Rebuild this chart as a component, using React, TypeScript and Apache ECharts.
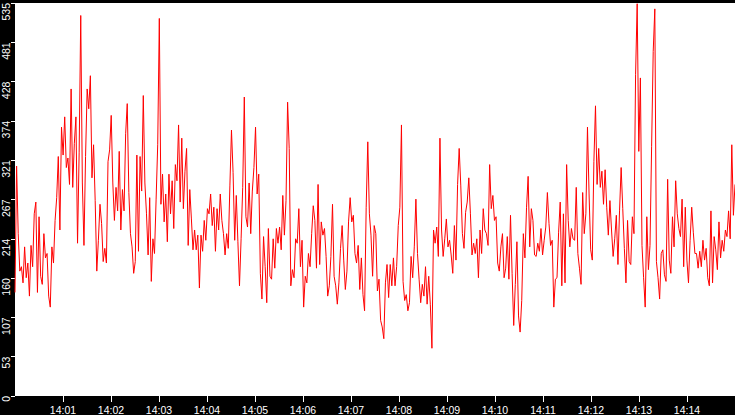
import React, { useEffect, useRef } from "react";
import * as echarts from "echarts";

// time window: 14:00:00 .. 14:15:00, seconds of day
const START_SEC = 14 * 3600;
const SPAN_SEC = 15 * 60;
const TICK_SEC = 60;

const Y_MAX = 535;
const Y_STEP = 53.5;

// samples, in six 2.5-minute blocks
const seg1 = [141, 313, 221, 170, 176, 154, 203, 161, 181, 136, 205, 176, 248, 264, 141, 244, 163, 152, 221, 188, 194, 136, 121, 203, 181, 239, 270, 326, 226, 366, 328, 380, 311, 324, 288, 418, 284, 344, 380, 208, 331, 518, 290, 205, 326, 418, 391, 436, 297, 342, 266, 170, 212, 261, 235, 183, 201, 181, 319, 335, 382, 290, 239, 284, 252, 333, 226, 281, 252, 357, 398, 277, 221, 203, 167];
const seg2 = [183, 328, 197, 326, 279, 409, 290, 248, 192, 270, 156, 214, 194, 268, 342, 514, 261, 302, 237, 275, 210, 302, 248, 293, 228, 315, 293, 369, 264, 351, 255, 306, 337, 205, 281, 241, 199, 226, 199, 219, 147, 219, 197, 239, 212, 255, 248, 275, 232, 257, 197, 255, 226, 275, 239, 221, 192, 221, 201, 286, 362, 304, 212, 273, 210, 150, 214, 284, 407, 244, 230, 290, 221, 279, 311];
const seg3 = [366, 275, 302, 167, 132, 217, 176, 127, 228, 163, 159, 214, 174, 228, 208, 230, 199, 273, 219, 266, 400, 337, 150, 172, 161, 214, 208, 255, 176, 212, 121, 163, 154, 194, 176, 221, 259, 239, 174, 288, 179, 237, 219, 228, 190, 136, 150, 190, 261, 163, 150, 125, 154, 201, 232, 185, 145, 170, 237, 270, 237, 246, 194, 181, 205, 145, 188, 138, 116, 257, 346, 248, 219, 163, 232];
const seg4 = [221, 143, 159, 103, 94, 78, 154, 179, 134, 179, 150, 188, 150, 176, 232, 257, 369, 156, 130, 138, 116, 127, 190, 161, 203, 268, 194, 159, 127, 152, 136, 176, 125, 163, 125, 65, 226, 208, 230, 190, 351, 226, 190, 214, 241, 203, 212, 192, 167, 232, 185, 288, 337, 286, 221, 201, 250, 264, 297, 248, 192, 208, 194, 214, 161, 226, 194, 255, 226, 221, 205, 315, 255, 273, 239];
const seg5 = [244, 181, 170, 203, 221, 161, 174, 217, 159, 246, 167, 96, 152, 210, 109, 87, 130, 221, 188, 257, 299, 203, 255, 239, 192, 190, 208, 197, 228, 192, 212, 230, 277, 235, 205, 212, 121, 159, 161, 223, 264, 150, 248, 154, 315, 239, 203, 228, 214, 212, 284, 194, 174, 152, 277, 221, 248, 366, 275, 199, 185, 319, 395, 288, 337, 284, 306, 261, 308, 257, 219, 266, 226, 190, 214];
const seg6 = [246, 179, 252, 311, 255, 201, 154, 239, 183, 179, 244, 221, 438, 534, 333, 433, 205, 161, 121, 244, 172, 205, 340, 469, 527, 183, 161, 132, 194, 199, 165, 156, 295, 185, 167, 244, 203, 293, 248, 228, 217, 268, 176, 257, 185, 154, 212, 257, 223, 194, 194, 174, 197, 176, 212, 185, 201, 161, 150, 252, 154, 217, 199, 172, 237, 188, 212, 197, 226, 217, 252, 214, 342, 246, 288];

const values = [...seg1, ...seg2, ...seg3, ...seg4, ...seg5, ...seg6];

const pad = (n: number) => (n < 10 ? "0" + n : "" + n);
const fmtTime = (sec: number) => {
  const m = Math.round(sec / 60);
  return pad(Math.floor(m / 60)) + ":" + pad(m % 60);
};

const App: React.FC = () => {
  const chartRef = useRef<HTMLDivElement | null>(null);

  useEffect(() => {
    document.body.style.margin = "0";
    if (!chartRef.current) return;
    const chart = echarts.init(chartRef.current, null, { renderer: "svg" });

    const step = SPAN_SEC / (values.length - 1);
    const data = values.map((v, i) => [START_SEC + i * step, v]);
    const font = "Liberation Sans";

    chart.setOption({
      animation: false,
      backgroundColor: "#000000",
      grid: {
        show: true,
        left: 15,
        right: 0,
        top: 0,
        bottom: 17,
        backgroundColor: "#ffffff",
        borderWidth: 0,
      },
      xAxis: {
        type: "value",
        min: START_SEC,
        max: START_SEC + SPAN_SEC,
        interval: TICK_SEC,
        axisLine: { show: false },
        axisTick: { show: true, length: 6, lineStyle: { color: "#ffffff", width: 1 } },
        splitLine: { show: false },
        axisLabel: {
          color: "#ffffff",
          fontFamily: font,
          fontSize: 10.5,
          margin: 8,
          showMinLabel: false,
          showMaxLabel: false,
          formatter: (v: number) => fmtTime(v),
        },
      },
      yAxis: {
        type: "value",
        min: 0,
        max: Y_MAX,
        interval: Y_STEP,
        axisLine: { show: false },
        axisTick: { show: true, length: 4, lineStyle: { color: "#ffffff", width: 1 } },
        splitLine: { show: false },
        axisLabel: {
          color: "#ffffff",
          fontFamily: font,
          fontSize: 10.5,
          rotate: 90,
          align: "right",
          verticalAlign: "middle",
          margin: 9,
          formatter: (v: number) => String(Math.floor(v)),
        },
      },
      series: [
        {
          type: "line",
          data,
          showSymbol: false,
          symbol: "none",
          silent: true,
          lineStyle: { color: "#ff0000", width: 1 },
        },
      ],
    });

    return () => {
      chart.dispose();
    };
  }, []);

  return <div ref={chartRef} style={{ width: "735px", height: "415px" }} />;
};

export default App;
